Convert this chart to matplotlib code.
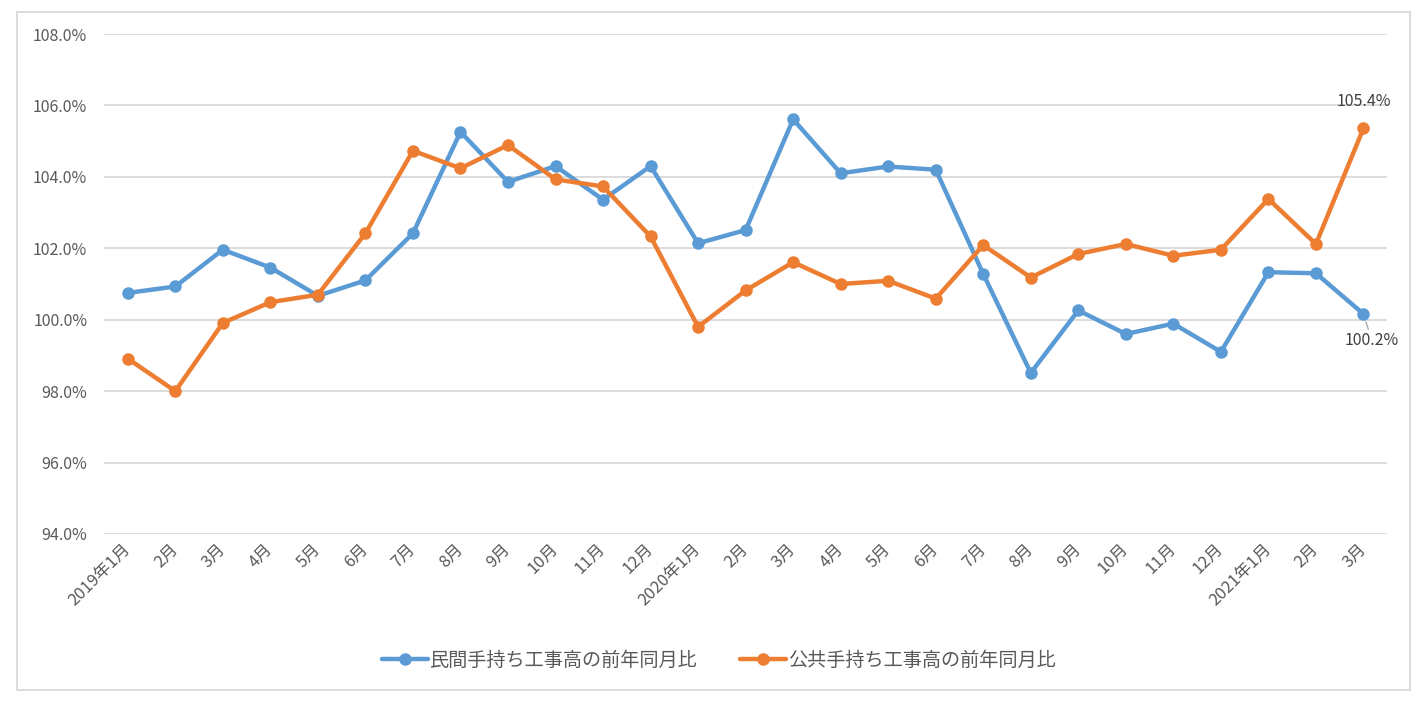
import matplotlib.pyplot as plt
from matplotlib.patches import Rectangle

plt.rcParams['font.family'] = ['Noto Sans CJK JP', 'DejaVu Sans']

months = ["2019年1月", "2月", "3月", "4月", "5月", "6月", "7月", "8月", "9月", "10月", "11月", "12月",
          "2020年1月", "2月", "3月", "4月", "5月", "6月", "7月", "8月", "9月", "10月", "11月", "12月",
          "2021年1月", "2月", "3月"]

# 前年同月比 (%)
minkan = [100.75, 100.93, 101.96, 101.46, 100.67, 101.10, 102.42, 105.26, 103.86, 104.30, 103.36, 104.30,
          102.14, 102.51, 105.61, 104.10, 104.29, 104.20, 101.28, 98.51, 100.26, 99.60, 99.89, 99.10,
          101.33, 101.30, 100.16]
koukyou = [98.91, 98.00, 99.91, 100.49, 100.70, 102.42, 104.73, 104.24, 104.89, 103.93, 103.73, 102.33,
           99.80, 100.82, 101.61, 101.00, 101.09, 100.59, 102.09, 101.18, 101.84, 102.12, 101.79, 101.96,
           103.38, 102.12, 105.36]

blue = "#5B9BD5"
orange = "#ED7D31"

fig = plt.figure(figsize=(14.25, 7.04), dpi=100)
ax = fig.add_axes([0.073, 0.2415, 0.9005, 0.7102])

x = range(len(months))
ax.plot(x, minkan, color=blue, lw=3.2, marker="o", ms=8, label="民間手持ち工事高の前年同月比",
        solid_capstyle="round")
ax.plot(x, koukyou, color=orange, lw=3.2, marker="o", ms=8, label="公共手持ち工事高の前年同月比",
        solid_capstyle="round")

ax.set_xlim(-0.5, len(months) - 0.5)
ax.set_ylim(94, 108)
ax.set_yticks([94, 96, 98, 100, 102, 104, 106, 108])
ax.set_yticklabels([f"{v:.1f}%" for v in ax.get_yticks()])
ax.set_xticks(list(x))
ax.set_xticklabels(months, rotation=45, ha="right", va="center", rotation_mode="anchor")
ax.tick_params(axis="both", length=0, colors="#595959")
ax.tick_params(axis="y", pad=12, labelsize=11.5)
ax.tick_params(axis="x", pad=9, labelsize=12)
ax.grid(axis="y", color="#D9D9D9", lw=1.3)
ax.set_axisbelow(True)
for s in ax.spines.values():
    s.set_visible(False)

last = len(months) - 1
ax.annotate(f"{koukyou[last]:.1f}%", (last, koukyou[last]), xytext=(0, 19), textcoords="offset points",
            ha="center", va="center", fontsize=11.5, color="#404040")
ax.annotate(f"{minkan[last]:.1f}%", (last, minkan[last]), xytext=(6, -19), textcoords="offset points",
            ha="center", va="center", fontsize=11.5, color="#404040",
            arrowprops=dict(arrowstyle="-", color="#A6A6A6", lw=1, shrinkA=0, shrinkB=6))

fig.legend(loc="center", bbox_to_anchor=(0.5046, 0.0625), ncol=2, frameon=False, fontsize=13.8,
           handlelength=2.4, handletextpad=0.1, columnspacing=2.2, labelcolor="#595959")

fig.patches.append(Rectangle((0.0119, 0.0199), 0.9775, 0.963, transform=fig.transFigure,
                             fill=False, edgecolor="#D9D9D9", lw=1.3))

fig.savefig("out.png", dpi=100)
